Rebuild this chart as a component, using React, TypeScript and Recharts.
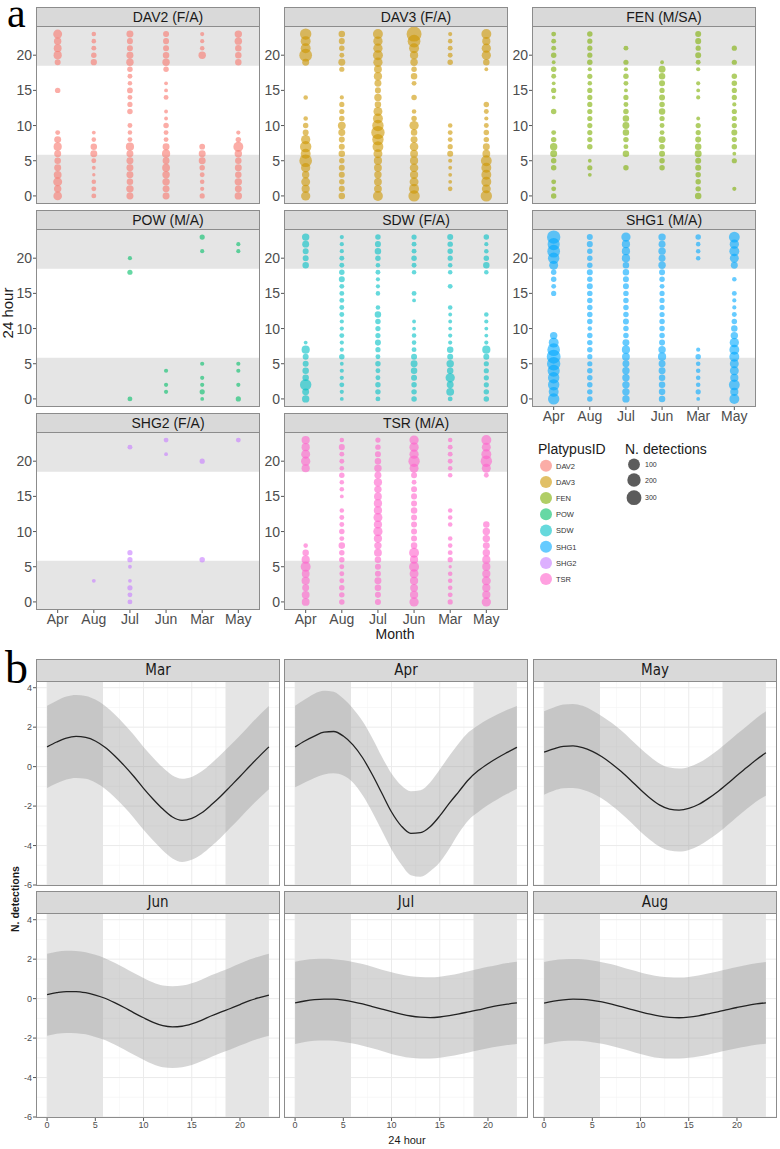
import React from "react";
import type { FC } from "react";
import {
  ScatterChart,
  Scatter,
  XAxis,
  YAxis,
  ZAxis,
  ReferenceArea,
  CartesianGrid,
  ComposedChart,
  Area,
  Line,
} from "recharts";

const FONT = '"Liberation Sans", Arial, sans-serif';
const NARROW = '"Liberation Sans Narrow", "DejaVu Sans Condensed", "Liberation Sans", sans-serif';

// ---- panel a: detections per hour, per month, per platypus ----
const MONTHS = ["Apr", "Aug", "Jul", "Jun", "Mar", "May"];
const MONTH_TICKS = [0, 1, 2, 3, 4, 5];
const HOUR_TICKS = [0, 5, 10, 15, 20];

const IDS = ["DAV2", "DAV3", "FEN", "POW", "SDW", "SHG1", "SHG2", "TSR"];
const STRIP_LABELS = ["DAV2 (F/A)", "DAV3 (F/A)", "FEN (M/SA)", "POW (M/A)", "SDW (F/A)", "SHG1 (M/A)", "SHG2 (F/A)", "TSR (M/A)"];
const COLORS = ["#F8766D", "#CD9600", "#7CAE00", "#00BE67", "#00BFC4", "#00A9FF", "#C77CFF", "#FF61CC"];

// rows = months (Apr, Aug, Jul, Jun, Mar, May), columns = hour 0..23, value = N. detections
const DAV2 = [
  [110, 80, 120, 90, 70, 60, 70, 100, 70, 30, 0, 0, 0, 0, 0, 40, 0, 0, 0, 50, 100, 90, 80, 120],
  [30, 30, 25, 10, 15, 30, 70, 60, 25, 15, 0, 0, 0, 0, 0, 0, 0, 0, 0, 55, 40, 30, 25, 25],
  [70, 80, 60, 70, 70, 70, 70, 100, 30, 25, 30, 0, 40, 35, 30, 45, 25, 30, 40, 80, 70, 50, 50, 70],
  [70, 70, 80, 80, 90, 70, 100, 70, 30, 30, 40, 15, 15, 0, 30, 15, 15, 0, 40, 80, 60, 50, 50, 50],
  [35, 20, 25, 30, 40, 70, 70, 45, 0, 0, 0, 0, 0, 0, 0, 0, 0, 0, 0, 0, 80, 25, 20, 20],
  [80, 70, 80, 60, 70, 60, 80, 150, 40, 20, 0, 0, 0, 0, 0, 0, 0, 0, 0, 60, 60, 60, 80, 80],
];
const DAV3 = [
  [130, 100, 120, 80, 130, 250, 150, 200, 130, 50, 40, 25, 0, 0, 25, 0, 0, 0, 0, 70, 250, 150, 150, 200],
  [60, 50, 40, 50, 50, 40, 60, 50, 50, 70, 90, 40, 35, 35, 20, 0, 0, 0, 35, 70, 30, 40, 50, 60],
  [150, 90, 90, 80, 90, 100, 120, 180, 200, 280, 200, 150, 120, 60, 80, 50, 70, 100, 90, 130, 150, 130, 130, 150],
  [200, 150, 120, 100, 110, 100, 90, 110, 70, 60, 130, 40, 25, 0, 40, 0, 30, 60, 40, 80, 100, 150, 250, 350],
  [0, 25, 15, 15, 15, 20, 50, 35, 30, 30, 25, 0, 0, 0, 0, 0, 0, 0, 0, 40, 30, 30, 25, 20],
  [200, 120, 150, 150, 150, 180, 90, 70, 40, 40, 30, 20, 30, 40, 0, 0, 0, 0, 15, 60, 130, 130, 100, 150],
];
const FEN = [
  [40, 30, 30, 0, 40, 40, 70, 80, 40, 30, 0, 0, 40, 0, 15, 35, 15, 30, 40, 15, 40, 30, 30, 30],
  [0, 0, 0, 15, 35, 15, 0, 40, 35, 35, 35, 35, 35, 35, 35, 35, 25, 35, 20, 40, 35, 35, 35, 40],
  [0, 0, 0, 0, 40, 0, 60, 30, 40, 60, 70, 60, 40, 30, 35, 15, 30, 40, 20, 35, 0, 30, 0, 0],
  [0, 0, 0, 0, 40, 40, 50, 40, 70, 30, 30, 35, 60, 40, 50, 35, 50, 60, 70, 15, 0, 0, 0, 0],
  [60, 40, 40, 40, 50, 50, 70, 60, 50, 35, 35, 15, 0, 0, 20, 15, 20, 0, 20, 30, 50, 35, 50, 50],
  [0, 20, 0, 0, 0, 35, 15, 40, 35, 50, 35, 35, 35, 20, 35, 35, 40, 40, 0, 35, 0, 35, 0, 0],
];
const POW = [
  [0, 0, 0, 0, 0, 0, 0, 0, 0, 0, 0, 0, 0, 0, 0, 0, 0, 0, 0, 0, 0, 0, 0, 0],
  [0, 0, 0, 0, 0, 0, 0, 0, 0, 0, 0, 0, 0, 0, 0, 0, 0, 0, 0, 0, 0, 0, 0, 0],
  [30, 0, 0, 0, 0, 0, 0, 0, 0, 0, 0, 0, 0, 0, 0, 0, 0, 0, 35, 0, 20, 0, 0, 0],
  [0, 20, 20, 0, 20, 0, 0, 0, 0, 0, 0, 0, 0, 0, 0, 0, 0, 0, 0, 0, 0, 0, 0, 0],
  [15, 35, 20, 20, 0, 20, 0, 0, 0, 0, 0, 0, 0, 0, 0, 0, 0, 0, 0, 0, 0, 20, 0, 35],
  [35, 0, 20, 0, 20, 20, 0, 0, 0, 0, 0, 0, 0, 0, 0, 0, 0, 0, 0, 0, 0, 20, 20, 0],
];
const SDW = [
  [80, 70, 200, 60, 60, 50, 50, 100, 15, 0, 0, 0, 0, 0, 0, 0, 0, 0, 0, 60, 50, 50, 70, 80],
  [15, 20, 30, 20, 20, 15, 40, 20, 20, 30, 20, 20, 30, 30, 30, 30, 30, 50, 40, 30, 30, 20, 20, 20],
  [30, 40, 40, 30, 30, 40, 30, 35, 50, 35, 35, 40, 60, 25, 0, 25, 20, 20, 30, 25, 40, 60, 50, 40],
  [40, 40, 40, 50, 60, 70, 50, 30, 25, 25, 15, 15, 0, 0, 15, 30, 0, 0, 25, 30, 40, 30, 30, 35],
  [30, 90, 70, 130, 60, 80, 50, 60, 20, 20, 15, 15, 15, 25, 0, 0, 30, 0, 25, 25, 35, 40, 40, 50],
  [40, 40, 35, 35, 35, 35, 50, 100, 20, 15, 15, 20, 25, 0, 0, 0, 0, 0, 25, 60, 40, 25, 20, 40],
];
const SHG1 = [
  [200, 150, 200, 200, 230, 280, 300, 250, 150, 80, 0, 0, 0, 0, 0, 35, 30, 40, 40, 120, 200, 250, 230, 280],
  [40, 40, 40, 40, 40, 35, 35, 40, 40, 40, 25, 40, 40, 40, 40, 40, 50, 40, 50, 40, 40, 40, 50, 50],
  [80, 80, 80, 80, 80, 70, 90, 100, 70, 40, 40, 50, 40, 40, 40, 40, 50, 50, 60, 60, 100, 100, 100, 130],
  [60, 60, 60, 60, 70, 70, 100, 80, 50, 40, 40, 40, 35, 35, 35, 35, 30, 40, 50, 80, 70, 80, 70, 80],
  [15, 35, 25, 25, 25, 25, 40, 20, 0, 0, 0, 0, 0, 0, 0, 0, 0, 0, 0, 0, 25, 25, 25, 40],
  [150, 100, 180, 100, 120, 120, 150, 150, 130, 80, 60, 40, 30, 20, 20, 30, 0, 25, 0, 70, 120, 150, 130, 180],
];
const SHG2 = [
  [0, 0, 0, 0, 0, 0, 0, 0, 0, 0, 0, 0, 0, 0, 0, 0, 0, 0, 0, 0, 0, 0, 0, 0],
  [0, 0, 0, 15, 0, 0, 0, 0, 0, 0, 0, 0, 0, 0, 0, 0, 0, 0, 0, 0, 0, 0, 0, 0],
  [30, 30, 35, 15, 0, 15, 35, 35, 0, 0, 0, 0, 0, 0, 0, 0, 0, 0, 0, 0, 0, 0, 30, 0],
  [0, 0, 0, 0, 0, 0, 0, 0, 0, 0, 0, 0, 0, 0, 0, 0, 0, 0, 0, 0, 0, 15, 0, 30],
  [0, 0, 0, 0, 0, 0, 40, 0, 0, 0, 0, 0, 0, 0, 0, 0, 0, 0, 0, 0, 35, 0, 0, 0],
  [0, 0, 0, 0, 0, 0, 0, 0, 0, 0, 0, 0, 0, 0, 0, 0, 0, 0, 0, 0, 0, 0, 0, 30],
];
const TSR = [
  [90, 90, 70, 100, 90, 150, 100, 60, 25, 0, 0, 0, 0, 0, 0, 0, 0, 0, 0, 100, 130, 120, 100, 100],
  [40, 40, 40, 30, 30, 30, 40, 40, 60, 30, 40, 30, 30, 25, 0, 15, 25, 25, 40, 25, 30, 30, 50, 25],
  [50, 50, 60, 70, 50, 50, 60, 90, 80, 100, 130, 100, 120, 100, 100, 90, 80, 100, 70, 80, 60, 50, 40, 35],
  [130, 100, 90, 100, 120, 150, 100, 150, 60, 50, 50, 50, 50, 60, 50, 50, 50, 30, 50, 120, 200, 130, 130, 130],
  [35, 30, 25, 25, 25, 10, 35, 30, 25, 25, 0, 25, 25, 25, 0, 0, 0, 0, 25, 25, 30, 30, 30, 25],
  [130, 100, 100, 120, 100, 100, 100, 80, 70, 80, 80, 60, 0, 0, 0, 0, 0, 0, 30, 120, 200, 150, 120, 150],
];
const DETECTIONS = [DAV2, DAV3, FEN, POW, SDW, SHG1, SHG2, TSR];
const SIZE_LEGEND = ["100", "200", "300"];

// ---- panel b: fitted curve with confidence band, by month ----
const B_MONTHS = ["Mar", "Apr", "May", "Jun", "Jul", "Aug"];
const B_X_TICKS = [0, 5, 10, 15, 20];
const B_Y_TICKS = [-6, -4, -2, 0, 2, 4];

const MAR_MEAN = [1.0, 1.25, 1.45, 1.53, 1.48, 1.3, 0.98, 0.55, 0.05, -0.5, -1.1, -1.65, -2.15, -2.55, -2.72, -2.62, -2.35, -1.95, -1.5, -1.0, -0.5, 0.02, 0.52, 1.0];
const MAR_HI = [3.08, 3.34, 3.55, 3.63, 3.58, 3.4, 3.08, 2.65, 2.15, 1.6, 1.0, 0.45, -0.05, -0.45, -0.61, -0.52, -0.25, 0.15, 0.6, 1.08, 1.58, 2.1, 2.6, 3.07];
const MAR_LO = [-1.08, -0.84, -0.65, -0.57, -0.62, -0.8, -1.12, -1.55, -2.05, -2.6, -3.2, -3.75, -4.25, -4.65, -4.83, -4.72, -4.45, -4.05, -3.6, -3.1, -2.6, -2.08, -1.6, -1.15];
const APR_MEAN = [1.0, 1.3, 1.55, 1.75, 1.78, 1.55, 1.1, 0.45, -0.4, -1.35, -2.3, -3.0, -3.38, -3.35, -3.05, -2.5, -1.85, -1.25, -0.65, -0.2, 0.15, 0.45, 0.72, 0.98];
const APR_HI = [3.08, 3.4, 3.7, 3.85, 3.8, 3.45, 2.95, 2.3, 1.45, 0.5, -0.35, -0.95, -1.25, -1.2, -0.8, -0.15, 0.55, 1.2, 1.75, 2.1, 2.4, 2.65, 2.88, 3.07];
const APR_LO = [-1.05, -0.8, -0.57, -0.4, -0.34, -0.45, -0.8, -1.45, -2.3, -3.25, -4.2, -4.95, -5.5, -5.58, -5.3, -4.85, -4.15, -3.35, -2.7, -2.3, -1.95, -1.65, -1.38, -1.12];
const MAY_MEAN = [0.73, 0.9, 1.03, 1.05, 0.96, 0.77, 0.5, 0.15, -0.25, -0.7, -1.17, -1.6, -1.95, -2.15, -2.2, -2.12, -1.92, -1.62, -1.27, -0.87, -0.45, -0.05, 0.35, 0.7];
const MAY_HI = [2.81, 3.0, 3.15, 3.18, 3.08, 2.85, 2.55, 2.22, 1.83, 1.38, 0.92, 0.5, 0.15, -0.05, -0.1, -0.02, 0.18, 0.48, 0.83, 1.23, 1.65, 2.05, 2.45, 2.81];
const MAY_LO = [-1.42, -1.22, -1.1, -1.08, -1.17, -1.35, -1.62, -1.97, -2.37, -2.82, -3.3, -3.72, -4.06, -4.25, -4.3, -4.22, -4.02, -3.72, -3.38, -2.97, -2.55, -2.15, -1.77, -1.47];
const JUN_MEAN = [0.2, 0.3, 0.36, 0.36, 0.3, 0.18, 0.02, -0.2, -0.45, -0.72, -0.97, -1.2, -1.37, -1.43, -1.4, -1.28, -1.1, -0.88, -0.68, -0.5, -0.3, -0.1, 0.05, 0.18];
const JUN_HI = [2.28, 2.38, 2.43, 2.42, 2.35, 2.22, 2.05, 1.82, 1.57, 1.3, 1.05, 0.82, 0.67, 0.63, 0.66, 0.78, 0.96, 1.18, 1.38, 1.57, 1.78, 1.98, 2.14, 2.28];
const JUN_LO = [-1.88, -1.78, -1.74, -1.75, -1.81, -1.94, -2.1, -2.33, -2.58, -2.85, -3.1, -3.33, -3.48, -3.52, -3.48, -3.36, -3.18, -2.96, -2.76, -2.58, -2.38, -2.18, -2.02, -1.88];
const JUL_MEAN = [-0.22, -0.12, -0.05, -0.02, -0.03, -0.08, -0.16, -0.27, -0.4, -0.53, -0.66, -0.78, -0.88, -0.94, -0.96, -0.93, -0.86, -0.77, -0.67, -0.57, -0.46, -0.36, -0.28, -0.22];
const JUL_HI = [1.87, 1.96, 2.01, 2.02, 2.0, 1.94, 1.86, 1.75, 1.61, 1.47, 1.34, 1.22, 1.13, 1.09, 1.08, 1.11, 1.18, 1.28, 1.39, 1.5, 1.61, 1.71, 1.8, 1.87];
const JUL_LO = [-2.3, -2.2, -2.14, -2.12, -2.14, -2.2, -2.28, -2.39, -2.52, -2.66, -2.8, -2.92, -3.0, -3.03, -3.03, -2.99, -2.92, -2.83, -2.73, -2.62, -2.52, -2.43, -2.35, -2.3];
const AUG_MEAN = [-0.23, -0.13, -0.06, -0.03, -0.04, -0.09, -0.17, -0.28, -0.41, -0.54, -0.67, -0.79, -0.89, -0.95, -0.97, -0.94, -0.87, -0.77, -0.67, -0.56, -0.45, -0.35, -0.27, -0.21];
const AUG_HI = [1.86, 1.95, 2.0, 2.01, 1.99, 1.93, 1.85, 1.74, 1.6, 1.46, 1.33, 1.21, 1.12, 1.08, 1.07, 1.1, 1.17, 1.27, 1.38, 1.49, 1.6, 1.7, 1.79, 1.86];
const AUG_LO = [-2.31, -2.21, -2.15, -2.13, -2.15, -2.21, -2.29, -2.4, -2.53, -2.67, -2.81, -2.93, -3.01, -3.04, -3.04, -3.0, -2.93, -2.84, -2.73, -2.62, -2.51, -2.42, -2.34, -2.29];

const B_SERIES = [
  [MAR_MEAN, MAR_LO, MAR_HI],
  [APR_MEAN, APR_LO, APR_HI],
  [MAY_MEAN, MAY_LO, MAY_HI],
  [JUN_MEAN, JUN_LO, JUN_HI],
  [JUL_MEAN, JUL_LO, JUL_HI],
  [AUG_MEAN, AUG_LO, AUG_HI],
];

const toPoints = (grid: number[][]) =>
  grid.flatMap((hours, m) =>
    hours.map((n, h) => ({ month: m, hour: h, n })).filter((p) => p.n > 0)
  );

const toRows = (mean: number[], lo: number[], hi: number[]) =>
  mean.map((v, h) => ({ hour: h, mean: v, band: [lo[h], hi[h]] }));

// layout
const A_COLS = [36, 284, 532];
const A_ROWS = [26, 229, 432];
const A_W = 224;
const A_H = 178;
const A_YW = 36;
const A_XH = 24;
const A_STRIP = 19;

const B_COLS = [36, 284, 533];
const B_ROWS = [681, 913];
const B_W = 244;
const B_H = 205;
const B_YW = 22;
const B_XH = 16;
const B_STRIP = 22;

const BORDER = "1px solid #8C8C8C";

type BubbleProps = { index: number; col: number; row: number; showX: boolean };

const BubbleFacet: FC<BubbleProps> = ({ index, col, row, showX }) => {
  const left = A_COLS[col];
  const top = A_ROWS[row];
  const data = toPoints(DETECTIONS[index]);
  return (
    <>
      <div
        style={{
          position: "absolute",
          left,
          top: top - A_STRIP,
          width: A_W,
          height: A_STRIP + 1,
          background: "#D9D9D9",
          border: BORDER,
          boxSizing: "border-box",
          fontSize: 14,
          color: "#1A1A1A",
          lineHeight: `${A_STRIP - 1}px`,
          textAlign: "center",
        }}
      >
        <span style={{ position: "relative", left: 20 }}>{STRIP_LABELS[index]}</span>
      </div>
      <div style={{ position: "absolute", left: left - A_YW, top }}>
        <ScatterChart
          width={A_W + A_YW}
          height={A_H + (showX ? A_XH : 0)}
          margin={{ top: 0, right: 0, bottom: 0, left: 0 }}
        >
          <XAxis
            type="number"
            dataKey="month"
            domain={[-0.6, 5.6]}
            ticks={MONTH_TICKS}
            tickFormatter={(v: number) => MONTHS[v]}
            hide={!showX}
            height={A_XH}
            axisLine={false}
            tickSize={3}
            tickMargin={1}
            tick={{ fontSize: 14, fill: "#4D4D4D" }}
            tickLine={{ stroke: "#555" }}
            interval={0}
            allowDataOverflow
          />
          <YAxis
            type="number"
            dataKey="hour"
            domain={[-1.15, 24.15]}
            ticks={HOUR_TICKS}
            width={A_YW}
            axisLine={false}
            tickSize={3}
            tickMargin={1}
            tick={{ fontSize: 14, fill: "#4D4D4D" }}
            tickLine={{ stroke: "#555" }}
            interval={0}
            allowDataOverflow
          />
          <ZAxis type="number" dataKey="n" domain={[0, 400]} range={[4, 200]} />
          <ReferenceArea x1={-0.6} x2={5.6} y1={-1.15} y2={5.85} fill="#E5E5E5" fillOpacity={1} stroke="none" />
          <ReferenceArea x1={-0.6} x2={5.6} y1={18.5} y2={24.15} fill="#E5E5E5" fillOpacity={1} stroke="none" />
          <Scatter data={data} fill={COLORS[index]} fillOpacity={0.6} isAnimationActive={false} />
        </ScatterChart>
      </div>
      <div
        style={{
          position: "absolute",
          left,
          top,
          width: A_W,
          height: A_H,
          border: BORDER,
          boxSizing: "border-box",
        }}
      />
    </>
  );
};

const MINOR_X = [2.5, 7.5, 12.5, 17.5, 22.5];
const MINOR_Y = [-5, -3, -1, 1, 3];

type CurveProps = { index: number; col: number; row: number };

const CurveFacet: FC<CurveProps> = ({ index, col, row }) => {
  const left = B_COLS[col];
  const top = B_ROWS[row];
  const [mean, lo, hi] = B_SERIES[index];
  const rows = toRows(mean, lo, hi);
  const yw = col === 0 ? B_YW : 0;
  const xh = row === 1 ? B_XH : 0;
  const pad = row === 0 ? 6 : 0;
  return (
    <>
      <div
        style={{
          position: "absolute",
          left,
          top: top - B_STRIP,
          width: B_W,
          height: B_STRIP + 1,
          background: "#D9D9D9",
          border: BORDER,
          boxSizing: "border-box",
          fontSize: 15,
          fontFamily: NARROW,
          color: "#1A1A1A",
          lineHeight: `${B_STRIP - 1}px`,
          textAlign: "center",
        }}
      >
        {B_MONTHS[index]}
      </div>
      <div style={{ position: "absolute", left: left - yw, top }}>
        <ComposedChart
          width={B_W + yw}
          height={B_H + xh + pad}
          data={rows}
          margin={{ top: 0, right: 0, bottom: pad, left: 0 }}
        >
          <CartesianGrid
            verticalValues={MINOR_X}
            horizontalValues={MINOR_Y}
            stroke="#F4F4F4"
            strokeWidth={0.6}
          />
          <CartesianGrid
            verticalValues={B_X_TICKS}
            horizontalValues={B_Y_TICKS}
            stroke="#EBEBEB"
            strokeWidth={1}
          />
          <XAxis
            type="number"
            dataKey="hour"
            domain={[-1.15, 24.15]}
            ticks={B_X_TICKS}
            hide={row === 0}
            height={B_XH}
            axisLine={false}
            tickSize={3}
            tickMargin={1}
            tick={{ fontSize: 9, fill: "#4D4D4D" }}
            tickLine={{ stroke: "#555" }}
            interval={0}
            allowDataOverflow
          />
          <YAxis
            type="number"
            domain={[-6.05, 4.34]}
            ticks={B_Y_TICKS}
            hide={col !== 0}
            width={B_YW}
            axisLine={false}
            tickSize={3}
            tickMargin={1}
            tick={{ fontSize: 9, fill: "#4D4D4D" }}
            tickLine={{ stroke: "#555" }}
            interval={0}
            allowDataOverflow
          />
          <ReferenceArea x1={0} x2={5.8} y1={-6.05} y2={4.34} fill="#E5E5E5" fillOpacity={1} stroke="none" />
          <ReferenceArea x1={18.5} x2={23} y1={-6.05} y2={4.34} fill="#E5E5E5" fillOpacity={1} stroke="none" />
          <Area
            type="monotone"
            dataKey="band"
            fill="#999999"
            fillOpacity={0.4}
            stroke="none"
            isAnimationActive={false}
          />
          <Line
            type="monotone"
            dataKey="mean"
            stroke="#222"
            strokeWidth={1.3}
            dot={false}
            isAnimationActive={false}
          />
        </ComposedChart>
      </div>
      <div
        style={{
          position: "absolute",
          left,
          top,
          width: B_W,
          height: B_H,
          border: BORDER,
          boxSizing: "border-box",
        }}
      />
    </>
  );
};

const A_FACETS = [
  { col: 0, row: 0, showX: false },
  { col: 1, row: 0, showX: false },
  { col: 2, row: 0, showX: false },
  { col: 0, row: 1, showX: false },
  { col: 1, row: 1, showX: false },
  { col: 2, row: 1, showX: true },
  { col: 0, row: 2, showX: true },
  { col: 1, row: 2, showX: true },
];

const B_FACETS = [
  { col: 0, row: 0 },
  { col: 1, row: 0 },
  { col: 2, row: 0 },
  { col: 0, row: 1 },
  { col: 1, row: 1 },
  { col: 2, row: 1 },
];

const Rotated: FC<{ cx: number; cy: number; size: number; bold?: boolean; text: string }> = ({
  cx,
  cy,
  size,
  bold,
  text,
}) => (
  <div
    style={{
      position: "absolute",
      left: cx - 70,
      top: cy - 10,
      width: 140,
      height: 20,
      lineHeight: "20px",
      textAlign: "center",
      transform: "rotate(-90deg)",
      fontSize: size,
      fontWeight: bold ? "bold" : "normal",
      color: "#1A1A1A",
    }}
  >
    {text}
  </div>
);

const Legend: FC = () => (
  <>
    <div style={{ position: "absolute", left: 538, top: 441, fontSize: 14, color: "#1A1A1A" }}>PlatypusID</div>
    <div style={{ position: "absolute", left: 625, top: 441, fontSize: 14, color: "#1A1A1A" }}>N. detections</div>
    <svg style={{ position: "absolute", left: 530, top: 455 }} width={140} height={135}>
      {IDS.map((id, i) => (
        <g key={id}>
          <circle cx={16} cy={10.7 + i * 16.2} r={6} fill={COLORS[i]} fillOpacity={0.6} />
          <text x={26} y={13.5 + i * 16.2} fontSize={7.5} fill="#333">
            {id}
          </text>
        </g>
      ))}
      {SIZE_LEGEND.map((lab, i) => (
        <g key={lab}>
          <circle cx={104} cy={[9.5, 25, 42.7][i]} r={[5.9, 6.7, 7.4][i]} fill="#333" fillOpacity={0.8} />
          <text x={115} y={[12, 27.5, 45.2][i]} fontSize={7} fill="#333">
            {lab}
          </text>
        </g>
      ))}
    </svg>
  </>
);

const App: FC = () => (
  <div
    style={{
      position: "absolute",
      left: 0,
      top: 0,
      width: 780,
      height: 1149,
      background: "#fff",
      fontFamily: FONT,
      overflow: "hidden",
    }}
  >
    <div
      style={{
        position: "absolute",
        left: 7,
        top: 0,
        fontSize: 42,
        lineHeight: "26px",
        fontFamily: '"Liberation Serif", serif',
      }}
    >
      a
    </div>
    {A_FACETS.map((f, i) => (
      <BubbleFacet key={IDS[i]} index={i} col={f.col} row={f.row} showX={f.showX} />
    ))}
    <Rotated cx={8} cy={313} size={15} text="24 hour" />
    <div style={{ position: "absolute", left: 345, top: 626, width: 100, textAlign: "center", fontSize: 14, color: "#1A1A1A" }}>
      Month
    </div>
    <Legend />

    <div
      style={{
        position: "absolute",
        left: 5,
        top: 645,
        fontSize: 46,
        lineHeight: "46px",
        fontFamily: '"Liberation Serif", serif',
      }}
    >
      b
    </div>
    {B_FACETS.map((f, i) => (
      <CurveFacet key={B_MONTHS[i]} index={i} col={f.col} row={f.row} />
    ))}
    <Rotated cx={15} cy={899} size={10.5} bold text="N. detections" />
    <div style={{ position: "absolute", left: 357, top: 1134, width: 100, textAlign: "center", fontSize: 11, color: "#1A1A1A" }}>
      24 hour
    </div>
  </div>
);

export default App;
